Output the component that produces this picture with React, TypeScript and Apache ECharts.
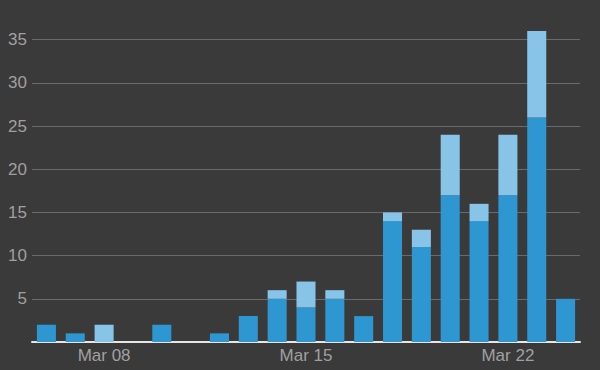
import React, { useEffect, useRef } from "react";
import * as echarts from "echarts";

const categories = [
  "Mar 06", "Mar 07", "Mar 08", "Mar 09", "Mar 10", "Mar 11", "Mar 12",
  "Mar 13", "Mar 14", "Mar 15", "Mar 16", "Mar 17", "Mar 18", "Mar 19",
  "Mar 20", "Mar 21", "Mar 22", "Mar 23", "Mar 24",
];
const darkValues = [2, 1, 0, 0, 2, 0, 1, 3, 5, 4, 5, 3, 14, 11, 17, 14, 17, 26, 5];
const lightValues = [0, 0, 2, 0, 0, 0, 0, 0, 1, 3, 1, 0, 1, 2, 7, 2, 7, 10, 0];
const labeledCategories = ["Mar 08", "Mar 15", "Mar 22"];

export default function App() {
  const ref = useRef<HTMLDivElement>(null);
  useEffect(() => {
    if (!ref.current) return;
    const chart = echarts.init(ref.current, undefined, { renderer: "svg" });
    chart.setOption({
      animation: false,
      backgroundColor: "#3a3a3a",
      grid: { left: 32, right: 20, top: 0, bottom: 28, containLabel: false },
      xAxis: {
        type: "category",
        data: categories,
        axisTick: { show: false },
        axisLine: { lineStyle: { color: "#e6e6e6", width: 2 } },
        axisLabel: {
          interval: (i: number, v: string) => labeledCategories.includes(v),
          color: "#a0a0a0",
          fontSize: 17,
          fontFamily: "Liberation Sans",
          margin: 5,
        },
      },
      yAxis: {
        type: "value",
        min: 0,
        max: 39.6,
        interval: 5,
        axisLine: { show: false },
        axisTick: { show: false },
        axisLabel: {
          color: "#a0a0a0",
          fontSize: 17,
          fontFamily: "Liberation Sans",
          margin: 5,
          showMaxLabel: false,
          formatter: (v: number) => (v === 0 ? "" : String(v)),
        },
        splitLine: {
          showMaxLine: false,
          lineStyle: { color: "#6a6a6a", width: 1 },
        },
      },
      series: [
        {
          type: "bar",
          stack: "total",
          data: darkValues,
          barCategoryGap: "34%",
          itemStyle: { color: "#2e96d1" },
        },
        {
          type: "bar",
          stack: "total",
          data: lightValues,
          barCategoryGap: "34%",
          itemStyle: { color: "#88c4e8" },
        },
      ],
    });
    return () => chart.dispose();
  }, []);
  return (
    <div
      ref={ref}
      style={{ position: "fixed", left: 0, top: 0, width: 600, height: 370 }}
    />
  );
}
